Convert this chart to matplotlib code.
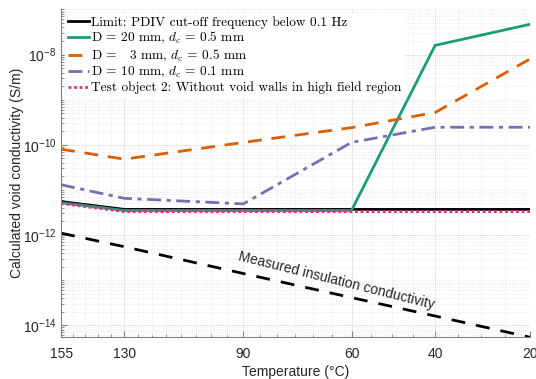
import numpy as np
import matplotlib
matplotlib.use('Agg')
import matplotlib.pyplot as plt
from matplotlib.ticker import FixedLocator, NullFormatter, LogLocator, FuncFormatter
from matplotlib.font_manager import FontProperties

plt.rcParams['font.family'] = ['Liberation Sans', 'DejaVu Sans']
plt.rcParams['mathtext.fontset'] = 'custom'
plt.rcParams['mathtext.rm'] = 'Liberation Sans'
plt.rcParams['mathtext.it'] = 'Liberation Sans:italic'

temps = [155, 130, 90, 60, 40, 20]
limit = [5.5e-12, 3.7e-12, 3.7e-12, 3.7e-12, 3.7e-12, 3.7e-12]
d20 = [5.2e-12, 3.5e-12, 3.5e-12, 3.5e-12, 1.6e-8, 4.7e-8]
d3 = [8.0e-11, 4.8e-11, 1.13e-10, 2.4e-10, 5.2e-10, 8.0e-9]
d10 = [1.3e-11, 6.5e-12, 4.9e-12, 1.13e-10, 2.45e-10, 2.45e-10]
test2 = [5.0e-12, 3.3e-12, 3.3e-12, 3.3e-12, 3.3e-12, 3.3e-12]
measured = [1.1e-12, 5.5e-13, 1.4e-13, 4.1e-14, 1.6e-14, 5.4e-15]

labels = ['Limit: PDIV cut-off frequency below 0.1 Hz',
          r'D = 20 mm, $d_c$ = 0.5 mm',
          r'D =   3 mm, $d_c$ = 0.5 mm',
          r'D = 10 mm, $d_c$ = 0.1 mm',
          'Test object 2: Without void walls in high field region']

# inverse absolute temperature on the x axis (axis reversed below)
fwd = lambda t: -1000.0 / (np.asarray(t, dtype=float) + 273.15)
inv = lambda u: -1000.0 / np.asarray(u, dtype=float) - 273.15

fig = plt.figure(figsize=(5.36, 3.79), dpi=100)
ax = fig.add_axes([0.114, 0.111, 0.875, 0.864])
ax.set_xscale('function', functions=(fwd, inv))
ax.set_yscale('log')

lw = 2.0
ax.plot(temps, limit, '-', color='black', lw=lw, label=labels[0])
ax.plot(temps, d20, '-', color='#1b9e77', lw=lw, label=labels[1])
ax.plot(temps, d3, '--', color='#d95f02', lw=lw, dashes=(5, 3.5), label=labels[2])
ax.plot(temps, d10, '-.', color='#7570b3', lw=lw, dashes=(5, 2, 1.5, 2), label=labels[3])
ax.plot(temps, test2, ':', color='#e7298a', lw=lw, dashes=(1, 1), label=labels[4])
ax.plot(temps, measured, '--', color='black', lw=lw, dashes=(5, 4))

ax.text(64, 1.0e-13, 'Measured insulation conductivity', rotation=-14,
        ha='center', va='center', fontsize=10, color='#262626')

ax.set_xlim(155, 20)
ax.set_ylim(5.5e-15, 1e-7)
ax.xaxis.set_major_locator(FixedLocator(temps))
ax.xaxis.set_major_formatter(FuncFormatter(lambda v, p: '%d' % round(v)))
ax.xaxis.set_minor_locator(FixedLocator([t for t in range(20, 156, 5) if t not in temps]))
ax.xaxis.set_minor_formatter(NullFormatter())

ax.yaxis.set_major_locator(FixedLocator([1e-14, 1e-12, 1e-10, 1e-8]))
ax.yaxis.set_major_formatter(FuncFormatter(lambda v, p: r'$10^{%d}$' % round(np.log10(v))))
ax.yaxis.set_minor_locator(LogLocator(base=10, subs=np.arange(1, 10), numticks=30))
ax.yaxis.set_minor_formatter(NullFormatter())

ax.grid(which='major', color='#e3e3e3', lw=0.6)
ax.grid(which='minor', color='#e3e3e3', lw=0.6, ls=':')
ax.set_axisbelow(True)
ax.tick_params(which='both', direction='in', colors='#808080', labelcolor='#262626', labelsize=10)
ax.tick_params(which='major', length=4)
ax.tick_params(which='minor', length=2)
ax.tick_params(axis='x', pad=7)
for s in ['top', 'right']:
    ax.spines[s].set_visible(False)
for s in ['left', 'bottom']:
    ax.spines[s].set_color('#808080')

ax.set_xlabel('Temperature (\u00b0C)', fontsize=10, color='#262626', labelpad=3)
ax.set_ylabel('Calculated void conductivity (S/m)', fontsize=10, color='#262626', labelpad=-1)

leg = ax.legend(loc='upper left', prop=FontProperties(family='cmr10', size=9.6, math_fontfamily='cm'),
                frameon=True, framealpha=1, edgecolor='white', fancybox=False,
                handlelength=1.6, handletextpad=0.15, labelspacing=0.1,
                borderaxespad=0.3, borderpad=0.2)

fig.savefig('out.png', dpi=100)
